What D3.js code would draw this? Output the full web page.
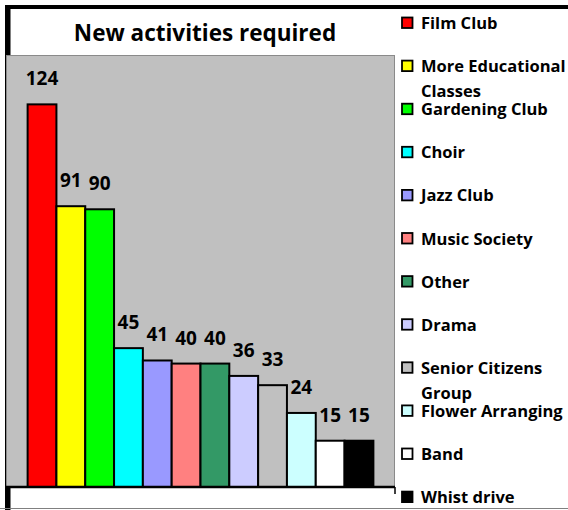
<!DOCTYPE html>
<html><head><meta charset="utf-8">
<script src="https://cdn.jsdelivr.net/npm/d3@7"></script>
<style>
html,body{margin:0;padding:0;background:#fff;}
text{font-family:"Open Sans",Lato,sans-serif;font-weight:bold;fill:#000;}
</style></head>
<body>
<svg id="c" width="568" height="510"></svg>
<script>
const title = "New activities required";
const categories = ["Film Club","More Educational Classes","Gardening Club","Choir","Jazz Club","Music Society","Other","Drama","Senior Citizens Group","Flower Arranging","Band","Whist drive"];
const legendLines = [["Film Club"],["More Educational","Classes"],["Gardening Club"],["Choir"],["Jazz Club"],["Music Society"],["Other"],["Drama"],["Senior Citizens","Group"],["Flower Arranging"],["Band"],["Whist drive"]];
const values = [124,91,90,45,41,40,40,36,33,24,15,15];
const colors = ["#FF0000","#FFFF00","#00FF00","#00FFFF","#9999FF","#FF8080","#339966","#CCCCFF","#C0C0C0","#CCFFFF","#FFFFFF","#000000"];
const yMax = 140;

const svg = d3.select("#c");
svg.append("rect").attr("width",568).attr("height",510).attr("fill","#fff");

// chart frame
svg.append("rect").attr("x",5).attr("y",5).attr("width",563).attr("height",4).attr("fill","#000");
svg.append("rect").attr("x",5).attr("y",5).attr("width",5).attr("height",505).attr("fill","#000");
svg.append("line").attr("x1",10.5).attr("x2",10.5).attr("y1",9).attr("y2",510).attr("stroke","#808080").attr("stroke-width",1);
svg.append("line").attr("x1",0).attr("x2",568).attr("y1",508.5).attr("y2",508.5).attr("stroke","#808080").attr("stroke-width",1);

// plot area
const pl = 6, pr = 395, pt = 55, pb = 487;
svg.append("rect").attr("x",pl+0.5).attr("y",pt+0.5).attr("width",pr-pl-1).attr("height",pb-pt)
  .attr("fill","#C0C0C0").attr("stroke","#8a8a8a").attr("stroke-width",1);

const x = d3.scaleBand().domain(categories).range([pl,pr]).paddingInner(0).paddingOuter(0.75);
const y = d3.scaleLinear().domain([0,yMax]).range([pb,pt]);

svg.append("g").selectAll("rect").data(values).join("rect")
  .attr("x",(d,i)=>x(categories[i]))
  .attr("y",d=>y(d))
  .attr("width",x.bandwidth())
  .attr("height",d=>pb-y(d))
  .attr("fill",(d,i)=>colors[i])
  .attr("stroke","#000").attr("stroke-width",2);

// axis line
svg.append("line").attr("x1",pl).attr("x2",pr).attr("y1",pb).attr("y2",pb).attr("stroke","#000").attr("stroke-width",2.5);
svg.append("line").attr("x1",pr).attr("x2",pr).attr("y1",pb).attr("y2",494).attr("stroke","#000").attr("stroke-width",1.5);

// labels
svg.append("g").selectAll("text").data(values).join("text")
  .attr("x",(d,i)=>x(categories[i])+x.bandwidth()/2)
  .attr("y",d=>y(d)-19)
  .attr("text-anchor","middle")
  .attr("font-size",19)
  .text(d=>d);

// title
svg.append("text").attr("x",205).attr("y",41).attr("text-anchor","middle").attr("font-size",22.5).text(title);

// legend
const lg = svg.append("g");
legendLines.forEach((lines,i)=>{
  const cy = 23 + i*43.1;
  lg.append("rect").attr("x",402).attr("y",cy-5.5).attr("width",10.5).attr("height",10.5)
    .attr("fill",colors[i]).attr("stroke","#000").attr("stroke-width",1.8);
  lines.forEach((t,j)=>{
    lg.append("text").attr("x",421).attr("y",cy+6+j*25).attr("font-size",16.5).text(t);
  });
});
</script>
</body></html>
